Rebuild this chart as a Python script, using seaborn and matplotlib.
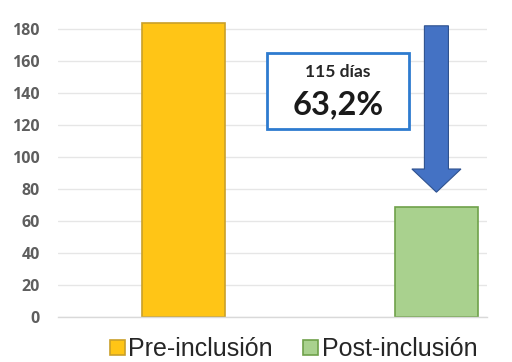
import matplotlib
matplotlib.use("Agg")
import matplotlib.pyplot as plt
from matplotlib.patches import Patch, Rectangle, FancyArrow
import seaborn as sns
import pandas as pd

# Days, before and after inclusion
categories = ["Pre-inclusión", "Post-inclusión"]
values = [184, 69]
bar_colors = ["#FFC516", "#A9D18E"]
edge_colors = ["#C9A02A", "#6FA14A"]
yticks = [0, 20, 40, 60, 80, 100, 120, 140, 160, 180]
note_days = "115 días"
note_pct = "63,2%"

df = pd.DataFrame({"grupo": categories, "dias": values})

sns.set_theme(style="white")
plt.rcParams["font.family"] = ["Liberation Sans", "DejaVu Sans"]

fig = plt.figure(figsize=(5.12, 3.62), dpi=100)
ax = fig.add_axes([0.1133, 0.1243, 0.8379, 0.8619])

sns.barplot(data=df, x="grupo", y="dias", hue="grupo", palette=bar_colors,
            width=0.328, legend=False, ax=ax, saturation=1)
for cont, ec in zip(ax.containers, edge_colors):
    for bar in cont:
        bar.set_edgecolor(ec)
        bar.set_linewidth(1.2)

ax.set_xlim(-0.496, 1.2)
ax.set_ylim(0, 195)
ax.set_yticks(yticks)
ax.set_yticklabels([str(t) for t in yticks], fontsize=11.5, fontweight="bold",
                   color="#5E5E5E", family=["Open Sans", "DejaVu Sans"])
ax.tick_params(axis="y", length=0, pad=13)
ax.set_xticks([])
ax.set_xlabel("")
ax.set_ylabel("")
ax.yaxis.grid(True, color="#E6E6E6", linewidth=1)
ax.set_axisbelow(True)
for s in ["top", "right", "left"]:
    ax.spines[s].set_visible(False)
ax.spines["bottom"].set_color("#D9D9D9")
ax.spines["bottom"].set_linewidth(1)

# Downward arrow from the pre value towards the post bar
ax.add_patch(FancyArrow(1.0, values[0] - 2, 0, -(values[0] - 2 - values[1] - 9),
                        width=0.095, head_width=0.194, head_length=14.5,
                        length_includes_head=True, facecolor="#4472C4",
                        edgecolor="#2F528F", linewidth=0.8, zorder=5))

# Annotation box with the reduction
ax.add_patch(Rectangle((0.33, 117.5), 0.56, 47.5, facecolor="white",
                       edgecolor="#2E7BCF", linewidth=2, zorder=5))
ax.text(0.61, 153, note_days, ha="center", va="center", fontsize=12.5,
        fontweight="bold", color="#262626", family=["Lato", "DejaVu Sans"], zorder=6)
ax.text(0.61, 132.5, note_pct, ha="center", va="center", fontsize=23.5,
        fontweight="bold", color="#1A1A1A", family=["Lato", "DejaVu Sans"], zorder=6)

handles = [Patch(facecolor=c, edgecolor=e, linewidth=1.2, label=l)
           for c, e, l in zip(bar_colors, edge_colors, categories)]
fig.legend(handles=handles, loc="center", bbox_to_anchor=(0.573, 0.035), ncol=2,
           frameon=False, fontsize=18, handlelength=0.6, handleheight=0.6,
           handletextpad=0.15, columnspacing=1.2, labelcolor="#262626")

fig.savefig("out.png", dpi=100)
